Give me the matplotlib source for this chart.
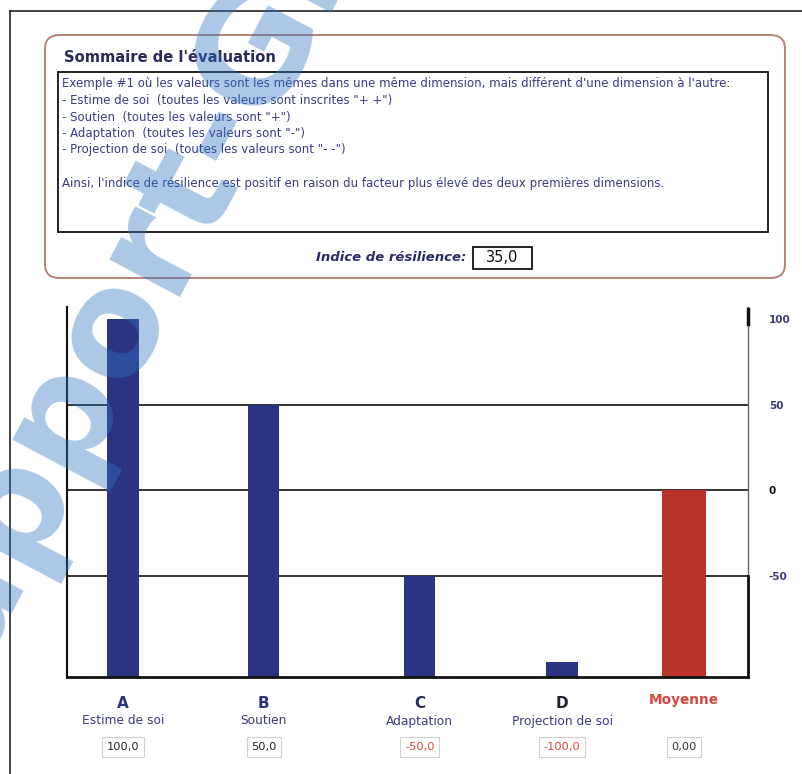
import matplotlib
matplotlib.use("Agg")
import matplotlib.pyplot as plt
from matplotlib.patches import FancyBboxPatch, Rectangle
from matplotlib.lines import Line2D
import matplotlib.transforms as mtransforms

# ---- data ----
letters = ["A", "B", "C", "D"]
dimensions = ["Estime de soi", "Soutien", "Adaptation", "Projection de soi"]
dim_scores = [100.0, 50.0, -50.0, -100.0]
mean_label = "Moyenne"
mean_score = 0.0
resilience_index = 35.0
y_ticks = [100, 50, 0, -50]

summary_title = "Sommaire de l'évaluation"
summary_lines = [
    "Exemple #1 où les valeurs sont les mêmes dans une même dimension, mais différent d'une dimension à l'autre:",
    "- Estime de soi  (toutes les valeurs sont inscrites \"+ +\")",
    "- Soutien  (toutes les valeurs sont \"+\")",
    "- Adaptation  (toutes les valeurs sont \"-\")",
    "- Projection de soi  (toutes les valeurs sont \"- -\")",
    "",
    "Ainsi, l'indice de résilience est positif en raison du facteur plus élevé des deux premières dimensions.",
]

# ---- layout ----
W, H = 803, 774
fig = plt.figure(figsize=(W / 100, H / 100), dpi=100)
fig.patch.set_facecolor("white")


def fx(x):
    return x / W


def fy(y):
    return 1 - y / H


NAVY = "#2b3483"
TEXT_NAVY = "#3a3a86"
RED = "#b9332a"
NEG_RED = "#d9463c"

# outer page frame
fig.add_artist(Line2D([fx(10), 1.0], [fy(11), fy(11)], transform=fig.transFigure,
                      color="#222222", lw=1.2))
fig.add_artist(Line2D([fx(10), fx(10)], [fy(11), 0.0], transform=fig.transFigure,
                      color="#222222", lw=1.2))

# summary panel
panel = FancyBboxPatch((fx(45), fy(278)), fx(785) - fx(45), fy(35) - fy(278),
                       boxstyle="round,pad=0,rounding_size=0.018",
                       transform=fig.transFigure, facecolor="white",
                       edgecolor="#b88276", lw=1.4)
fig.add_artist(panel)
fig.text(fx(64), fy(58), summary_title, fontsize=10.6, fontweight="bold",
         color="#2a2a5c", va="center", ha="left")
fig.add_artist(Rectangle((fx(58), fy(232)), fx(768) - fx(58), fy(72) - fy(232),
                         transform=fig.transFigure, facecolor="white",
                         edgecolor="#111111", lw=1.3))
line_y = 84
for line in summary_lines:
    if line:
        fig.text(fx(62), fy(line_y), line, fontsize=8.5, color=TEXT_NAVY,
                 va="center", ha="left")
    line_y += 16.5

fig.text(fx(466), fy(258), "Indice de résilience:", fontsize=9.5, style="italic",
         fontweight="bold", color="#2a2a6a", ha="right", va="center")
fig.add_artist(Rectangle((fx(473), fy(269)), fx(532) - fx(473), fy(247) - fy(269),
                         transform=fig.transFigure, facecolor="white",
                         edgecolor="#111111", lw=1.3))
fig.text(fx(502.5), fy(258), f"{resilience_index:.1f}".replace(".", ","),
         fontsize=10.5, color="#111111", ha="center", va="center")

# ---- bar chart ----
ax = fig.add_axes([fx(67), fy(677), fx(748) - fx(67), fy(307) - fy(677)])
ymin, ymax = -109, 107
ax.set_ylim(ymin, ymax)
ax.set_xlim(0, 10)

positions = [0.82, 2.89, 5.18, 7.27, 9.06]
values = dim_scores + [mean_score]
colors = [NAVY] * len(dim_scores) + [RED]
widths = [0.46] * len(dim_scores) + [0.64]

for yv in y_ticks:
    if yv != max(y_ticks):
        ax.axhline(yv, color="#111111", lw=1.2, zorder=1)

ax.bar(positions, [v - ymin for v in values], bottom=ymin, width=widths,
       color=colors, zorder=2)

ax.set_xticks([])
ax.yaxis.tick_right()
ax.set_yticks(y_ticks)
ax.set_yticklabels([str(t) for t in y_ticks])
ax.tick_params(axis="y", length=0, pad=15, labelsize=7.5)
for lbl, t in zip(ax.get_yticklabels(), y_ticks):
    lbl.set_fontweight("bold")
    lbl.set_color("#111111" if t == 0 else "#3a3a78")

ax.spines["top"].set_visible(False)
ax.spines["left"].set_color("#111111")
ax.spines["left"].set_linewidth(1.5)
ax.spines["bottom"].set_color("#111111")
ax.spines["bottom"].set_linewidth(2.0)
ax.spines["right"].set_color("#666666")
ax.spines["right"].set_linewidth(1.0)
# heavier marks on the right axis
ax.plot([1, 1], [ymin, -50], transform=ax.get_yaxis_transform(), color="#111111",
        lw=2.0, clip_on=False, zorder=3)
ax.plot([1, 1], [ymax - 1, 100 - 3], transform=ax.get_yaxis_transform(),
        color="#111111", lw=2.5, clip_on=False, zorder=3)

# category labels and value fields below the chart
trans = mtransforms.blended_transform_factory(ax.transData, fig.transFigure)
letter_colors = [NAVY, NAVY, "#2a2a66", "#222233"]
field_box = dict(boxstyle="square,pad=0.4", facecolor="white",
                 edgecolor="#d0d0d0", lw=0.8)
for pos, let, dim, val, lc in zip(positions, letters, dimensions, dim_scores, letter_colors):
    ax.text(pos, fy(703), let, transform=trans, ha="center", va="center",
            fontsize=11, fontweight="bold", color=lc)
    ax.text(pos, fy(721), dim, transform=trans, ha="center", va="center",
            fontsize=8.8, color=TEXT_NAVY)
    ax.text(pos, fy(747), f"{val:.1f}".replace(".", ","), transform=trans,
            ha="center", va="center", fontsize=8.2,
            color=NEG_RED if val < 0 else "#222222", bbox=field_box)

ax.text(positions[-1], fy(700), mean_label, transform=trans, ha="center",
        va="center", fontsize=9.8, fontweight="bold", color=NEG_RED)
ax.text(positions[-1], fy(747), f"{mean_score:.2f}".replace(".", ","),
        transform=trans, ha="center", va="center", fontsize=8.2, color="#333333",
        bbox=field_box)

# diagonal site watermark
fig.text(fx(-76), fy(754), "Rapport-Gratuit.com", rotation=62, rotation_mode="anchor",
         ha="left", va="baseline", fontsize=105, fontweight="bold",
         color="#2f74c0", alpha=0.4, zorder=10)

fig.savefig("out.png", dpi=100)
